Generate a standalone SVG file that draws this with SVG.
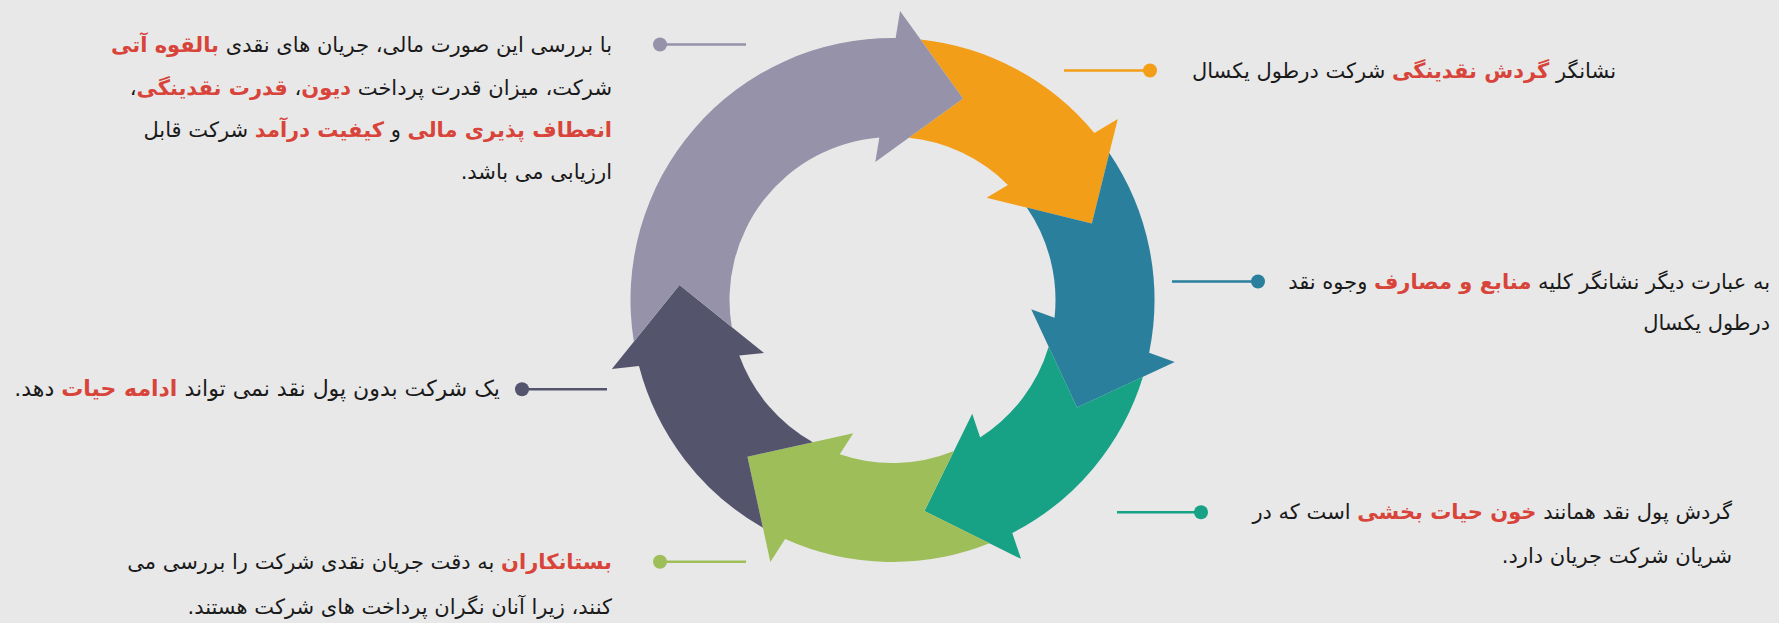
<svg xmlns="http://www.w3.org/2000/svg" width="1779" height="623" viewBox="0 0 1779 623">
<style>
.t{font-family:"DejaVu Sans","Noto Sans",sans-serif;font-size:21px;fill:#1a1a1a;direction:rtl;text-anchor:start}
.r{fill:#d8443a;font-weight:bold}
.ln{stroke-width:2.5;fill:none}
</style>
<defs>
<filter id="soft" x="-5%" y="-5%" width="110%" height="110%"><feGaussianBlur stdDeviation="0.7"/></filter>
</defs>
<rect width="1779" height="623" fill="#e8e8e8"/>
<g id="node-orange">
<path fill="#f39e18" d="M 920.57 39.51 A 262 262 0 0 1 1094.37 133.0 L 1117.77 118.96 L 1091.82 223.49 L 986.59 197.68 L 1007.9 184.88 A 163 163 0 0 0 908.83 137.82 L 963.06 98.5 Z"/>
<text class="t" x="1616" y="78">نشانگر <tspan class="r">گردش نقدینگی</tspan> شرکت درطول یکسال</text>
</g>
<g id="node-teal">
<path fill="#2a7f9d" d="M 1109.32 152.91 A 262 262 0 0 1 1149.16 352.64 L 1174.76 362.06 L 1077.02 407.39 L 1031.19 309.21 L 1054.53 317.8 A 163 163 0 0 0 1026.75 207.56 L 1091.82 223.49 Z"/>
<text class="t" x="1770" y="289">به عبارت دیگر نشانگر کلیه <tspan class="r">منابع و مصارف</tspan> وجوه نقد</text>
<text class="t" x="1770" y="330">درطول یکسال</text>
</g>
<g id="node-green">
<path fill="#17a185" d="M 1142.98 376.82 A 262 262 0 0 1 1012.29 533.01 L 1021.0 558.86 L 924.43 511.1 L 972.23 413.86 L 980.15 437.43 A 163 163 0 0 0 1048.67 346.7 L 1077.02 407.39 Z"/>
<text class="t" x="1732" y="519">گردش پول نقد همانند <tspan class="r">خون حیات بخشی</tspan> است که در</text>
<text class="t" x="1732" y="563">شریان شرکت جریان دارد.</text>
</g>
<g id="node-lightgreen">
<path fill="#9ebe5a" d="M 989.6 543.34 A 262 262 0 0 1 785.14 539.0 L 770.36 561.92 L 747.44 456.65 L 853.25 433.34 L 839.78 454.24 A 163 163 0 0 0 953.95 450.97 L 924.43 511.1 Z"/>
<text class="t" x="612" y="569"><tspan class="r">بستانکاران</tspan> به دقت جریان نقدی شرکت را بررسی می</text>
<text class="t" x="612" y="614">کنند، زیرا آنان نگران پرداخت های شرکت هستند.</text>
</g>
<g id="node-slate">
<path fill="#55546d" d="M 762.88 527.69 A 262 262 0 0 1 638.97 366.08 L 611.84 368.94 L 679.52 285.11 L 763.99 352.97 L 739.27 355.56 A 163 163 0 0 0 812.85 442.22 L 747.44 456.65 Z"/>
<text class="t" x="500" y="396" style="font-size:22px">یک شرکت بدون پول نقد نمی تواند <tspan class="r">ادامه حیات</tspan> دهد.</text>
</g>
<g id="node-purple">
<path fill="#9592a9" filter="url(#soft)" d="M 633.83 341.66 A 262 262 0 0 1 895.65 38.02 L 900.07 11.1 L 963.06 98.5 L 875.32 162.07 L 879.34 137.53 A 163 163 0 0 0 731.76 327.04 L 679.52 285.11 Z"/>
<text class="t" x="612" y="52">با بررسی این صورت مالی، جریان های نقدی <tspan class="r">بالقوه آتی</tspan></text>
<text class="t" x="612" y="95">شرکت، میزان قدرت پرداخت <tspan class="r">دیون</tspan>، <tspan class="r">قدرت نقدینگی</tspan>،</text>
<text class="t" x="612" y="137"><tspan class="r">انعطاف پذیری مالی</tspan> و <tspan class="r">کیفیت درآمد</tspan> شرکت قابل</text>
<text class="t" x="612" y="179">ارزیابی می باشد.</text>
</g>
<g id="connectors">
<g stroke="#9592a9" fill="#9592a9"><line class="ln" x1="660" y1="44.5" x2="746" y2="44.5"/><circle cx="660" cy="44.5" r="7" stroke="none"/></g>
<g stroke="#f39e18" fill="#f39e18"><line class="ln" x1="1064" y1="70.5" x2="1150" y2="70.5"/><circle cx="1150" cy="70.5" r="7" stroke="none"/></g>
<g stroke="#2a7f9d" fill="#2a7f9d"><line class="ln" x1="1172" y1="281.5" x2="1258" y2="281.5"/><circle cx="1258" cy="281.5" r="7" stroke="none"/></g>
<g stroke="#17a185" fill="#17a185"><line class="ln" x1="1117" y1="512.3" x2="1201" y2="512.3"/><circle cx="1201" cy="512.3" r="7" stroke="none"/></g>
<g stroke="#55546d" fill="#55546d"><line class="ln" x1="522" y1="389.3" x2="607" y2="389.3"/><circle cx="522" cy="389.3" r="7" stroke="none"/></g>
<g stroke="#9ebe5a" fill="#9ebe5a"><line class="ln" x1="660" y1="561.7" x2="746" y2="561.7"/><circle cx="660" cy="561.7" r="7" stroke="none"/></g>
</g>
</svg>
